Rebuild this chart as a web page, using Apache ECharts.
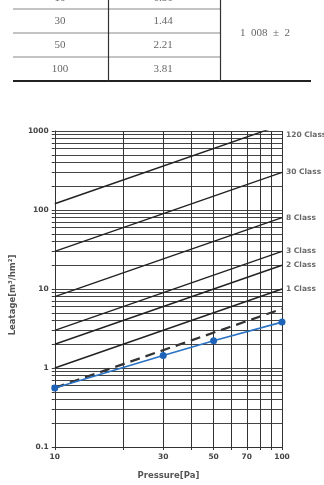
<!DOCTYPE html>
<html>
<head>
<meta charset="utf-8">
<script src="https://cdn.jsdelivr.net/npm/echarts@6/dist/echarts.min.js"></script>
<style>
html,body{margin:0;padding:0;background:#fff;}
#c{width:324px;height:485px;}
</style>
</head>
<body>
<div id="c"></div>
<script>
// ---- data ----
var tablePressure = ['10', '30', '50', '100'];
var tableLeak = ['0.56', '1.44', '2.21', '3.81'];
var tableMerged = '1  008  \u00b1  2';

var classNames = ['1 Class', '2 Class', '3 Class', '8 Class', '30 Class', '120 Class'];
var classStart = [1, 2, 3, 8, 30, 120];      // leakage at 10 Pa
var classEnd = [10, 20, 30, 80, 300, 1200];  // leakage at 100 Pa
var classLabelY = [10, 20, 30, 80, 300, 890];

var measP = [10, 30, 50, 100];
var measQ = [0.56, 1.44, 2.21, 3.81];

var dashP = [10, 100];
var dashQ = [0.56, 5.6];

var xTickValues = [10, 20, 30, 40, 50, 60, 70, 80, 90, 100];
var xLabelValues = [10, 30, 50, 70, 100];
var yTickValues = [0.1,0.2,0.3,0.4,0.5,0.6,0.7,0.8,0.9,1,2,3,4,5,6,7,8,9,10,20,30,40,50,60,70,80,90,100,200,300,400,500,600,700,800,900,1000];
var yLabelValues = [0.1, 1, 10, 100, 1000];

// ---- chart ----
var chart = echarts.init(document.getElementById('c'), null, {renderer: 'canvas'});

var series = [];
classNames.forEach(function (n, i) {
  series.push({
    type: 'line', name: n, silent: true, symbol: 'none', clip: true,
    data: [[10, classStart[i]], [100, classEnd[i]]],
    lineStyle: {color: '#222', width: 1.4}, z: 3
  });
});
series.push({
  type: 'scatter', silent: true, symbolSize: 0,
  data: classNames.map(function (n, i) { return {value: [100, classLabelY[i]], name: n}; }),
  label: {show: true, position: 'right', distance: 4, formatter: '{b}',
    fontFamily: 'DejaVu Sans', fontWeight: 'bold', fontSize: 7.5, color: '#444'},
  clip: false, z: 5
});
series.push({
  type: 'line', silent: true, symbol: 'none',
  data: dashP.map(function (p, i) { return [p, dashQ[i]]; }),
  lineStyle: {color: '#333', width: 2.2, type: [10, 6]}, z: 4
});
series.push({
  type: 'line', silent: true, symbol: 'circle', symbolSize: 7,
  data: measP.map(function (p, i) { return [p, measQ[i]]; }),
  lineStyle: {color: '#2a72c4', width: 1.6},
  itemStyle: {color: '#1f63b8'}, z: 6
});

// table graphics
var g = [];
var rowY = [-2, 21, 45, 69];
for (var i = 0; i < 4; i++) {
  g.push({type: 'text', x: 60, y: rowY[i], style: {text: tablePressure[i], fill: '#666', font: '11px "Liberation Serif"', textAlign: 'center', textVerticalAlign: 'middle'}});
  g.push({type: 'text', x: 163, y: rowY[i], style: {text: tableLeak[i], fill: '#666', font: '11px "Liberation Serif"', textAlign: 'center', textVerticalAlign: 'middle'}});
}
g.push({type: 'text', x: 265, y: 33, style: {text: tableMerged, fill: '#666', font: '11px "Liberation Serif"', textAlign: 'center', textVerticalAlign: 'middle'}});
[9, 33, 57].forEach(function (y) {
  g.push({type: 'line', shape: {x1: 13, y1: y, x2: 220, y2: y}, style: {stroke: '#888', lineWidth: 1}});
});
g.push({type: 'line', shape: {x1: 13, y1: 81, x2: 311, y2: 81}, style: {stroke: '#222', lineWidth: 2}});
g.push({type: 'line', shape: {x1: 108.5, y1: 0, x2: 108.5, y2: 81}, style: {stroke: '#333', lineWidth: 1.2}});
g.push({type: 'line', shape: {x1: 220.5, y1: 0, x2: 220.5, y2: 81}, style: {stroke: '#333', lineWidth: 1.2}});

var axisFont = {fontFamily: 'DejaVu Sans', fontWeight: 'bold', fontSize: 7.5, color: '#444'};
var nameFont = {fontFamily: 'DejaVu Sans', fontWeight: 'bold', fontSize: 8.5, color: '#555'};

chart.setOption({
  animation: false,
  backgroundColor: '#fff',
  grid: {left: 48, right: 42, top: 131, bottom: 28, containLabel: false},
  xAxis: {
    type: 'log', logBase: 10, min: 10, max: 100,
    name: 'Pressure[Pa]', nameLocation: 'middle', nameGap: 24,
    nameTextStyle: nameFont,
    axisLine: {show: true, lineStyle: {color: '#333', width: 1}},
    axisTick: {show: true, length: 3, customValues: xTickValues, lineStyle: {color: '#333'}},
    axisLabel: Object.assign({customValues: xLabelValues, margin: 6, formatter: function (v) { return String(Math.round(v)); }}, axisFont),
    splitLine: {show: true, lineStyle: {color: '#333', width: 1}},
    minorTick: {show: false}, minorSplitLine: {show: false}
  },
  yAxis: {
    type: 'log', logBase: 10, min: 0.1, max: 1000,
    name: 'Leatage[m\u00b3/hm\u00b2]', nameLocation: 'middle', nameGap: 35, nameRotate: 90,
    nameTextStyle: Object.assign({padding: [0, 12, 0, 0]}, nameFont),
    axisLine: {show: true, lineStyle: {color: '#333', width: 1}},
    axisTick: {show: true, length: 3, customValues: yTickValues, lineStyle: {color: '#333'}},
    axisLabel: Object.assign({customValues: yLabelValues, margin: 6, formatter: function (v) { return v < 1 ? String(Math.round(v * 10) / 10) : String(Math.round(v)); }}, axisFont),
    splitLine: {show: true, lineStyle: {color: '#444', width: 1}},
    minorTick: {show: false}, minorSplitLine: {show: false}
  },
  graphic: g,
  series: series
});
</script>
</body>
</html>
